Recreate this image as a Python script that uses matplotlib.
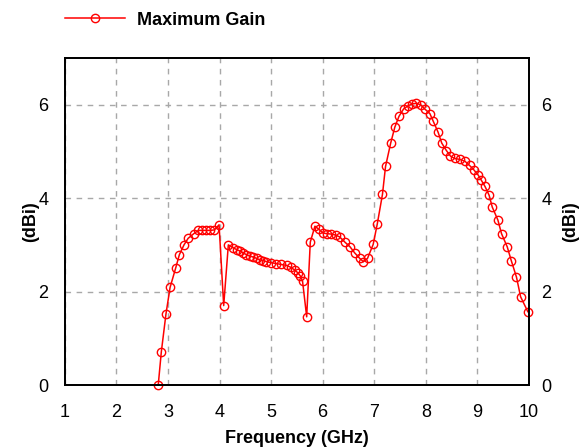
import matplotlib.pyplot as plt

# Maximum gain vs frequency

freq = [2.81, 2.87, 2.96, 3.04, 3.15, 3.22, 3.31, 3.39, 3.50, 3.59, 3.66, 3.74,
        3.82, 3.90, 3.99, 4.08, 4.17, 4.26, 4.33, 4.39, 4.46, 4.52, 4.59, 4.65,
        4.72, 4.78, 4.85, 4.91, 5.00, 5.10, 5.20, 5.30, 5.38, 5.46, 5.52, 5.57,
        5.61, 5.69, 5.76, 5.85, 5.93, 6.01, 6.09, 6.17, 6.25, 6.33, 6.43, 6.53,
        6.62, 6.72, 6.79, 6.87, 6.98, 7.06, 7.16, 7.22, 7.32, 7.40, 7.48, 7.57,
        7.66, 7.74, 7.82, 7.90, 7.98, 8.08, 8.14, 8.24, 8.31, 8.40, 8.48, 8.56,
        8.66, 8.76, 8.85, 8.93, 9.02, 9.08, 9.15, 9.23, 9.29, 9.40, 9.47, 9.58,
        9.66, 9.76, 9.84, 9.98]
gain = [0.00, 0.71, 1.52, 2.09, 2.51, 2.79, 3.00, 3.14, 3.24, 3.31, 3.31, 3.31,
        3.31, 3.32, 3.43, 1.70, 3.00, 2.94, 2.90, 2.87, 2.83, 2.79, 2.76, 2.74,
        2.71, 2.68, 2.66, 2.64, 2.62, 2.60, 2.58, 2.56, 2.52, 2.46, 2.40, 2.33,
        2.22, 1.46, 3.06, 3.40, 3.33, 3.25, 3.24, 3.23, 3.21, 3.17, 3.06, 2.96,
        2.83, 2.71, 2.64, 2.71, 3.01, 3.45, 4.08, 4.68, 5.18, 5.52, 5.75, 5.91,
        5.98, 6.02, 6.03, 6.00, 5.91, 5.81, 5.66, 5.41, 5.18, 5.02, 4.90, 4.85,
        4.83, 4.79, 4.70, 4.61, 4.49, 4.38, 4.25, 4.06, 3.81, 3.53, 3.24, 2.96,
        2.66, 2.31, 1.89, 1.57]

xticks = [1, 2, 3, 4, 5, 6, 7, 8, 9, 10]
yticks = [0, 2, 4, 6]

plt.rcParams["font.family"] = ["Liberation Sans", "DejaVu Sans"]

fig = plt.figure(figsize=(5.85, 4.48), dpi=100)
ax = fig.add_axes([0.111, 0.1406, 0.793, 0.7299])

ax.plot(freq, gain, color="#ff0000", lw=1.1, marker="o", ms=6,
        mfc="none", mec="#ff0000", mew=1.0, label="Maximum Gain", clip_on=False)

ax.set_xlim(1, 10)
ax.set_ylim(0, 7)
ax.set_xticks(xticks)
ax.set_yticks(yticks)
ax.grid(True, color="#a8a8a8", ls=(0, (4, 4)), lw=1)
ax.tick_params(length=0, labelsize=13)
ax.tick_params(axis="x", pad=14)
ax.tick_params(axis="y", pad=12)
for s in ax.spines.values():
    s.set_linewidth(1.3)

ax.set_xlabel("Frequency (GHz)", fontsize=13, fontweight="bold", labelpad=6)
ax.set_ylabel("(dBi)", fontsize=13, fontweight="bold", labelpad=-1)

ax2 = ax.twinx()
ax2.set_ylim(0, 7)
ax2.set_yticks(yticks)
ax2.tick_params(length=0, labelsize=13, pad=9)
ax2.set_ylabel("(dBi)", fontsize=13, fontweight="bold", labelpad=8)
for s in ax2.spines.values():
    s.set_linewidth(1.3)

h, l = ax.get_legend_handles_labels()
fig.legend(h, l, loc="center left", bbox_to_anchor=(0.111, 0.955), frameon=False,
           handlelength=3.3, handletextpad=0.7, borderpad=0, borderaxespad=0,
           prop={"size": 13, "weight": "bold"})

fig.savefig("out.png", dpi=100)
